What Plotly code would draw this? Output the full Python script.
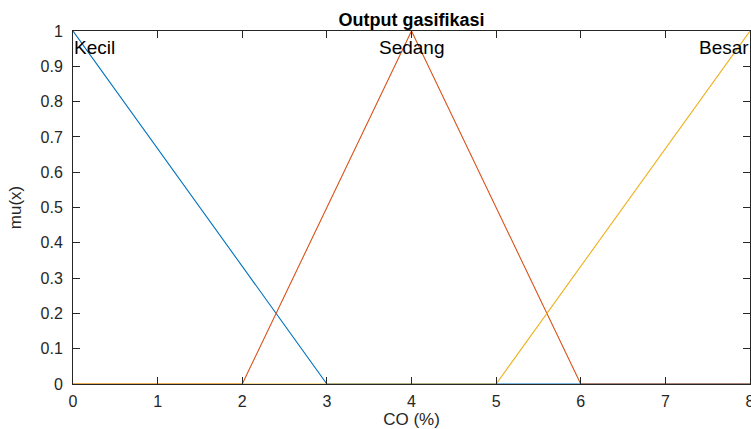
import plotly.graph_objects as go

# Membership functions (x breakpoints, mu values)
kecil_x = [0, 3, 8]
kecil_y = [1, 0, 0]
sedang_x = [0, 2, 4, 6, 8]
sedang_y = [0, 0, 1, 0, 0]
besar_x = [0, 5, 8]
besar_y = [0, 0, 1]

labels = ["Kecil", "Sedang", "Besar"]
label_x = [0, 4, 8]
label_y = [0.952, 0.952, 0.952]
label_anchor = ["left", "center", "right"]

x_ticks = [0, 1, 2, 3, 4, 5, 6, 7, 8]
y_ticks = [0, 0.1, 0.2, 0.3, 0.4, 0.5, 0.6, 0.7, 0.8, 0.9, 1]
y_tick_text = ["0", "0.1", "0.2", "0.3", "0.4", "0.5", "0.6", "0.7", "0.8", "0.9", "1"]

colors = ["#0072BD", "#D95319", "#EDB120"]
FONT = "Liberation Sans, Arial, sans-serif"
INK = "#262626"

fig = go.Figure()
for xs, ys, c, n in zip([kecil_x, sedang_x, besar_x], [kecil_y, sedang_y, besar_y], colors, labels):
    fig.add_trace(go.Scatter(x=xs, y=ys, mode="lines", line=dict(color=c, width=1.1),
                             name=n, showlegend=False, hoverinfo="skip", cliponaxis=False))

for t, xv, yv, a in zip(labels, label_x, label_y, label_anchor):
    fig.add_annotation(x=xv, y=yv, text=t, showarrow=False, xanchor=a, yanchor="middle",
                       font=dict(family=FONT, size=19, color="black"), borderpad=0)

axis_common = dict(showline=True, linecolor=INK, linewidth=1, mirror="ticks",
                   ticks="inside", ticklen=7, tickcolor=INK, tickwidth=1,
                   showgrid=False, zeroline=False, automargin=False,
                   tickfont=dict(family=FONT, size=16, color=INK))

fig.update_layout(
    width=751, height=429,
    margin=dict(l=73, r=1, t=31, b=45, autoexpand=False),
    paper_bgcolor="white", plot_bgcolor="white",
    title=dict(text="<b>Output gasifikasi</b>", x=0.5, xref="paper", xanchor="center",
               y=1, yref="paper", yanchor="bottom", pad=dict(b=5),
               font=dict(family=FONT, size=18, color="black")),
    xaxis=dict(range=[0, 8], tickvals=x_ticks, ticklabelstandoff=3, ticklabeloverflow="allow",
               title=dict(text="CO (%)", standoff=2, font=dict(family=FONT, size=17, color=INK)),
               **axis_common),
    yaxis=dict(range=[0, 1], tickvals=y_ticks, ticktext=y_tick_text, ticklabelstandoff=6,
               title=dict(text="mu(x)", standoff=14, font=dict(family=FONT, size=17, color=INK)),
               **axis_common),
)

fig.write_html("out.html", config={"displayModeBar": False},
               post_script="document.body.style.margin='0';document.body.style.overflow='hidden';")
